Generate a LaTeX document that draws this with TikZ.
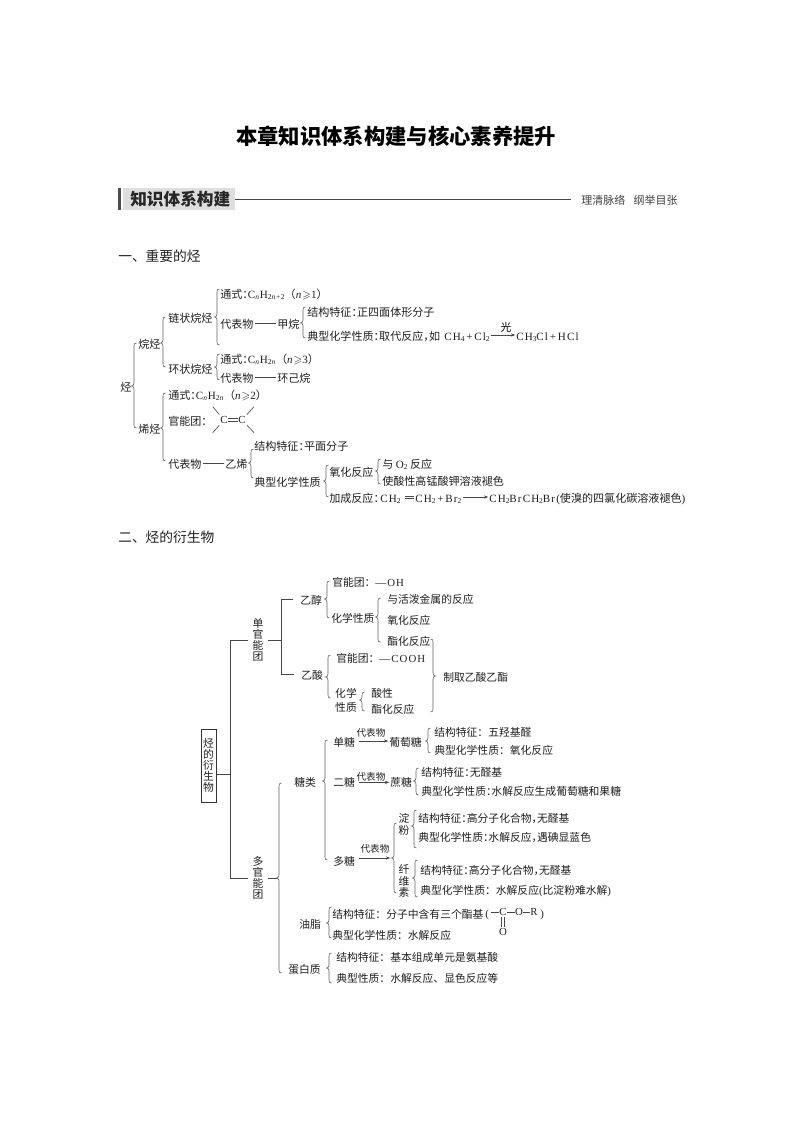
\documentclass[tikz,border=0pt]{standalone}
\usepackage{amssymb}
\usepackage{fontspec}
\setmainfont{Noto Sans CJK SC}
\newfontfamily\cj{Noto Sans CJK SC}
\newfontfamily\lat[LetterSpace=10]{Liberation Serif}
\usetikzlibrary{arrows.meta}
\newcommand\sbs[1]{\raisebox{-0.35ex}{\fontsize{5.6pt}{5.6pt}\selectfont #1}}
\newcommand\ital[1]{\textit{#1}}
\newcommand\gs{$\geqslant$}
\newcommand\nc{：\kern-.5em}
\newcommand\nm{，\kern-.5em}
\newcommand\lp{{\cj（}}
\newcommand\rp{{\cj）}}
\def\fs{8.3pt}
\tikzset{
  txt/.style={anchor=west,inner sep=0pt,text height=.88em,text depth=.12em,font=\fontsize{\fs}{9pt}\selectfont,text=black!88},
  vtxt/.style={align=center,inner ysep=0pt,inner xsep=3.4pt,font=\fontsize{8.1pt}{8.1pt}\selectfont,text=black!88},
  conn/.style={draw=black!72,line width=.45pt},
  brc/.style={draw=black!62,line width=.45pt},
  arr/.style={draw=black!72,line width=.45pt,-{Stealth[length=3.4pt,width=2.4pt]},shorten <=1pt,shorten >=.5pt},
  rep/.style={inner sep=0pt,font=\fontsize{7.2pt}{9pt}\selectfont,text=black!88},
  atom/.style={inner sep=0pt,font=\lat\fontsize{8.1pt}{9pt}\selectfont,text=black!88},
}
\newcommand\T[4]{\node[txt] (#1) at (#2,#3) {#4};}
\newcommand\BB[5]{\draw[brc] ({#1+#5*2.5},#2) .. controls ({#1+#5*.5},#2) and (#1,{#2+1}) .. (#1,{#2+3}) -- (#1,{#4-3}) .. controls (#1,{#4-1}) and ({#1-#5*1},#4) .. ({#1-#5*2.5},#4) .. controls ({#1-#5*1},#4) and (#1,{#4+1}) .. (#1,{#4+3}) -- (#1,{#3-3}) .. controls (#1,{#3-1}) and ({#1+#5*.5},#3) .. ({#1+#5*2.5},#3);}
\begin{document}
\begin{tikzpicture}[x=.75pt,y=-.75pt]
\useasboundingbox (0,0) rectangle (794,1123);
% title and headings
\node[inner sep=0pt,font=\fontsize{16pt}{18pt}\selectfont\bfseries] (title) at (396,136) {本章知识体系构建与核心素养提升};
\fill[black!70] (118,188) rectangle (120.5,210);
\fill[black!13] (123,188) rectangle (235,210);
\node[anchor=west,inner sep=0pt,font=\fontsize{12.5pt}{14pt}\selectfont\bfseries,text=black!85] (sec) at (130,199.5) {知识体系构建};
\node[txt,font=\fontsize{8.25pt}{9pt}\selectfont,text=black!75] (secr) at (581,199.5) {理清脉络\hspace{.75em}纲举目张};
\draw[conn,line width=.6pt] (sec.east -| 235,199.5) -- (571,199.5);
\node[txt,font=\fontsize{10.3pt}{11pt}\selectfont] (h1) at (118,256) {一、重要的烃};
\node[txt,font=\fontsize{10.3pt}{11pt}\selectfont] (h2) at (118,537) {二、烃的衍生物};
% part one
\T{ting}{120}{386}{烃}
\BB{134}{343}{428}{386}{1}
\T{wan}{138}{343}{烷烃}
\T{xi}{138}{428}{烯烃}
\BB{163}{317}{367}{343}{1}
\T{lian}{168}{317}{链状烷烃}
\T{huan}{168}{368}{环状烷烃}
\BB{217}{289}{345}{317}{1}
\T{a1}{220}{293}{通式\nc{\lat C\sbs{\ital{n}}H\sbs{2\ital{n}+2}\lp\ital{n}\gs 1\rp}}
\T{a2}{220}{323}{代表物}
\T{a3}{277}{323}{甲烷}
\draw[conn] ([xshift=1pt]a2.east) -- ([xshift=-1pt]a3.west);
\BB{303}{307}{338}{323}{1}
\T{a4}{307}{311}{结构特征\nc 正四面体形分子}
\T{a5}{307}{335}{典型化学性质\nc 取代反应\nm 如}
\T{a6}{444}{335}{{\lat CH\sbs{4}\,+\,Cl\sbs{2}}}
\T{a7}{516}{335}{{\lat CH\sbs{3}Cl\,+\,HCl}}
\draw[arr] (a6.east) -- (a7.west);
\node[inner sep=0pt,font=\fontsize{8.1pt}{9pt}\selectfont] (guang) at (506,327) {光};
\BB{217}{354}{380}{367}{1}
\T{b1}{220}{358}{通式\nc{\lat C\sbs{\ital{n}}H\sbs{2\ital{n}}\lp\ital{n}\gs 3\rp}}
\T{b2}{220}{377}{代表物}
\T{b3}{277}{377}{环己烷}
\draw[conn] ([xshift=1pt]b2.east) -- ([xshift=-1pt]b3.west);
\BB{163}{393}{461}{428}{1}
\T{c1}{168}{394}{通式\nc{\lat C\sbs{\ital{n}}H\sbs{2\ital{n}}\lp\ital{n}\gs 2\rp}}
\T{c2}{168}{420}{官能团\nc}
\node[atom] (cl) at (224,420) {C};
\node[atom] (cr) at (242,420) {C};
\draw[conn] (228,418.7) -- (237.5,418.7) (228,421) -- (237.5,421);
\coordinate (ul) at (212.7,406.7); \coordinate (dl) at (212.7,432.7);
\coordinate (ur) at (254,406.7); \coordinate (dr) at (254,432.7);
\draw[conn,shorten >=1.5pt] (ul) -- (cl);
\draw[conn,shorten >=1.5pt] (dl) -- (cl);
\draw[conn,shorten >=1.5pt] (ur) -- (cr);
\draw[conn,shorten >=1.5pt] (dr) -- (cr);
\T{c3}{168}{463}{代表物}
\T{c4}{225}{463}{乙烯}
\draw[conn] ([xshift=1pt]c3.east) -- ([xshift=-1pt]c4.west);
\BB{251}{449}{478}{463}{1}
\T{d1}{254}{445}{结构特征\nc 平面分子}
\T{d2}{254}{481}{典型化学性质}
\BB{326}{465}{497}{481}{1}
\T{e1}{329}{471}{氧化反应}
\BB{378}{459}{484}{471}{1}
\T{f1}{382}{463}{与 {\lat O\sbs{2}} 反应}
\T{f2}{382}{480}{使酸性高锰酸钾溶液褪色}
\T{e2}{329}{497}{加成反应\nc}
\T{e3}{380}{497}{{\lat CH\sbs{2}}}
\T{e4}{415}{497}{{\lat CH\sbs{2}\,+\,Br\sbs{2}}}
\T{e5}{489}{497}{{\lat CH\sbs{2}BrCH\sbs{2}Br(}使溴的四氯化碳溶液褪色{\lat )}}
\draw[conn] (405,496) -- (414,496) (405,498) -- (414,498);
\draw[arr] (e4.east) -- (e5.west);
% part two
\def\fs{8.1pt}
\node[draw=black!80,line width=.5pt,minimum width=15pt*.75,minimum height=73pt*.75,vtxt,inner xsep=1.7pt] (box) at (208.5,765.5) {烃\\的\\衍\\生\\物};
\coordinate (j) at (230,774);
\draw[conn] (box.east |- j) -- (j);
\node[vtxt] (dan) at (258,640) {单\\官\\能\\团};
\node[vtxt] (duo) at (258,878) {多\\官\\能\\团};
\draw[conn] (j) |- (dan.west);
\draw[conn] (j) |- (duo.west);
\coordinate (k) at (281,640);
\draw[conn] (dan.east) -- (k);
\T{yc}{300}{599}{乙醇}
\T{ys}{301}{674}{乙酸}
\draw[conn] ([xshift=-5pt]yc.west) -| (k);
\draw[conn] ([xshift=-5.5pt]ys.west) -| (k);
\BB{327}{581}{618}{599}{1}
\T{g1}{332}{581}{官能团：{\lat —OH}}
\T{g2}{331}{617}{化学性质}
\BB{378}{598}{642}{617}{1}
\T{h3}{387}{598}{与活泼金属的反应}
\T{h4}{387}{619}{氧化反应}
\T{h5}{387}{640}{酯化反应}
\BB{328}{655}{698}{677}{1}
\T{i1}{336}{657}{官能团：{\lat —COOH}}
\node[vtxt,font=\fontsize{8.1pt}{10.5pt}\selectfont] (i2) at (346,700) {化学\\性质};
\BB{362}{692}{711}{700}{1}
\T{i3}{371}{692}{酸性}
\T{i4}{371}{708}{酯化反应}
\BB{433}{639}{712}{676}{-1}
\T{i5}{443}{676}{制取乙酸乙酯}
\draw[conn] (duo.east) -- (276.5,878);
\BB{279}{783}{973}{878}{1}
\T{tl}{294}{781}{糖类}
\BB{325}{740}{860}{781}{1}
\T{m1}{333}{741}{单糖}
\T{m2}{389}{741}{葡萄糖}
\draw[arr] ([xshift=2pt]m1.east) -- (m2.west);
\node[rep] (m3) at (371,733) {代表物};
\BB{428}{728}{753}{741}{1}
\T{m4}{434}{731}{结构特征：五羟基醛}
\T{m5}{434}{749}{典型化学性质：氧化反应}
\T{n1}{333}{781}{二糖}
\T{n2}{390}{781}{蔗糖}
\draw[arr] ([xshift=2pt,yshift=-1pt]n1.east) -- ([yshift=-1pt]n2.west);
\node[rep] (n3) at (371,777) {代表物};
\BB{416}{768}{795}{781}{1}
\T{n4}{421}{771}{结构特征\nc 无醛基}
\T{n5}{421}{790}{典型化学性质\nc 水解反应生成葡萄糖和果糖}
\T{o1}{333}{860}{多糖}
\coordinate (otip) at (391,858);
\draw[arr] ([xshift=2pt,yshift=1.5pt]o1.east) -- (otip);
\node[rep] (o3) at (375,849) {代表物};
\BB{394}{823}{893}{858}{1}
\node[vtxt,font=\fontsize{8.1pt}{9pt}\selectfont] (dian) at (404,824) {淀\\粉};
\BB{414}{810}{848}{826}{1}
\T{p1}{418}{817}{结构特征\nc 高分子化合物\nm 无醛基}
\T{p2}{418}{836}{典型化学性质\nc 水解反应\nm 遇碘显蓝色}
\node[vtxt,font=\fontsize{8.1pt}{8.7pt}\selectfont] (xian) at (404,881) {纤\\维\\素};
\BB{415}{860}{897}{878}{1}
\T{q1}{420}{869}{结构特征\nc 高分子化合物\nm 无醛基}
\T{q2}{420}{889}{典型化学性质：水解反应{\lat (}比淀粉难水解{\lat )}}
\T{r0}{299}{923}{油脂}
\BB{329}{907}{938}{923}{1}
\T{r1}{332}{913}{结构特征：分子中含有三个酯基}
\node[txt] (r2) at (332,934) {典型化学性质：水解反应};
\node[txt,font=\lat\fontsize{8.1pt}{9pt}\selectfont] (ep1) at (485,912) {(};
\node[atom] (ec) at (503,912) {C};
\node[atom] (eo) at (519,912) {O};
\node[atom] (er) at (534,912) {R};
\node[txt,font=\lat\fontsize{8.1pt}{9pt}\selectfont] (ep2) at (540,912) {)};
\node[atom] (eb) at (503,932) {O};
\coordinate (edash) at (491,912);
\draw[conn] (edash) -- (ec) -- (eo) -- (er);
\draw[conn,shorten <=1pt,shorten >=1pt] ([xshift=-1pt]ec.south) -- ([xshift=-1pt]eb.north);
\draw[conn,shorten <=1pt,shorten >=1pt] ([xshift=1pt]ec.south) -- ([xshift=1pt]eb.north);
\T{s0}{288}{968}{蛋白质}
\BB{329}{953}{983}{968}{1}
\T{s1}{336}{956}{结构特征：基本组成单元是氨基酸}
\T{s2}{336}{977}{典型性质：水解反应、显色反应等}
\end{tikzpicture}
\end{document}
